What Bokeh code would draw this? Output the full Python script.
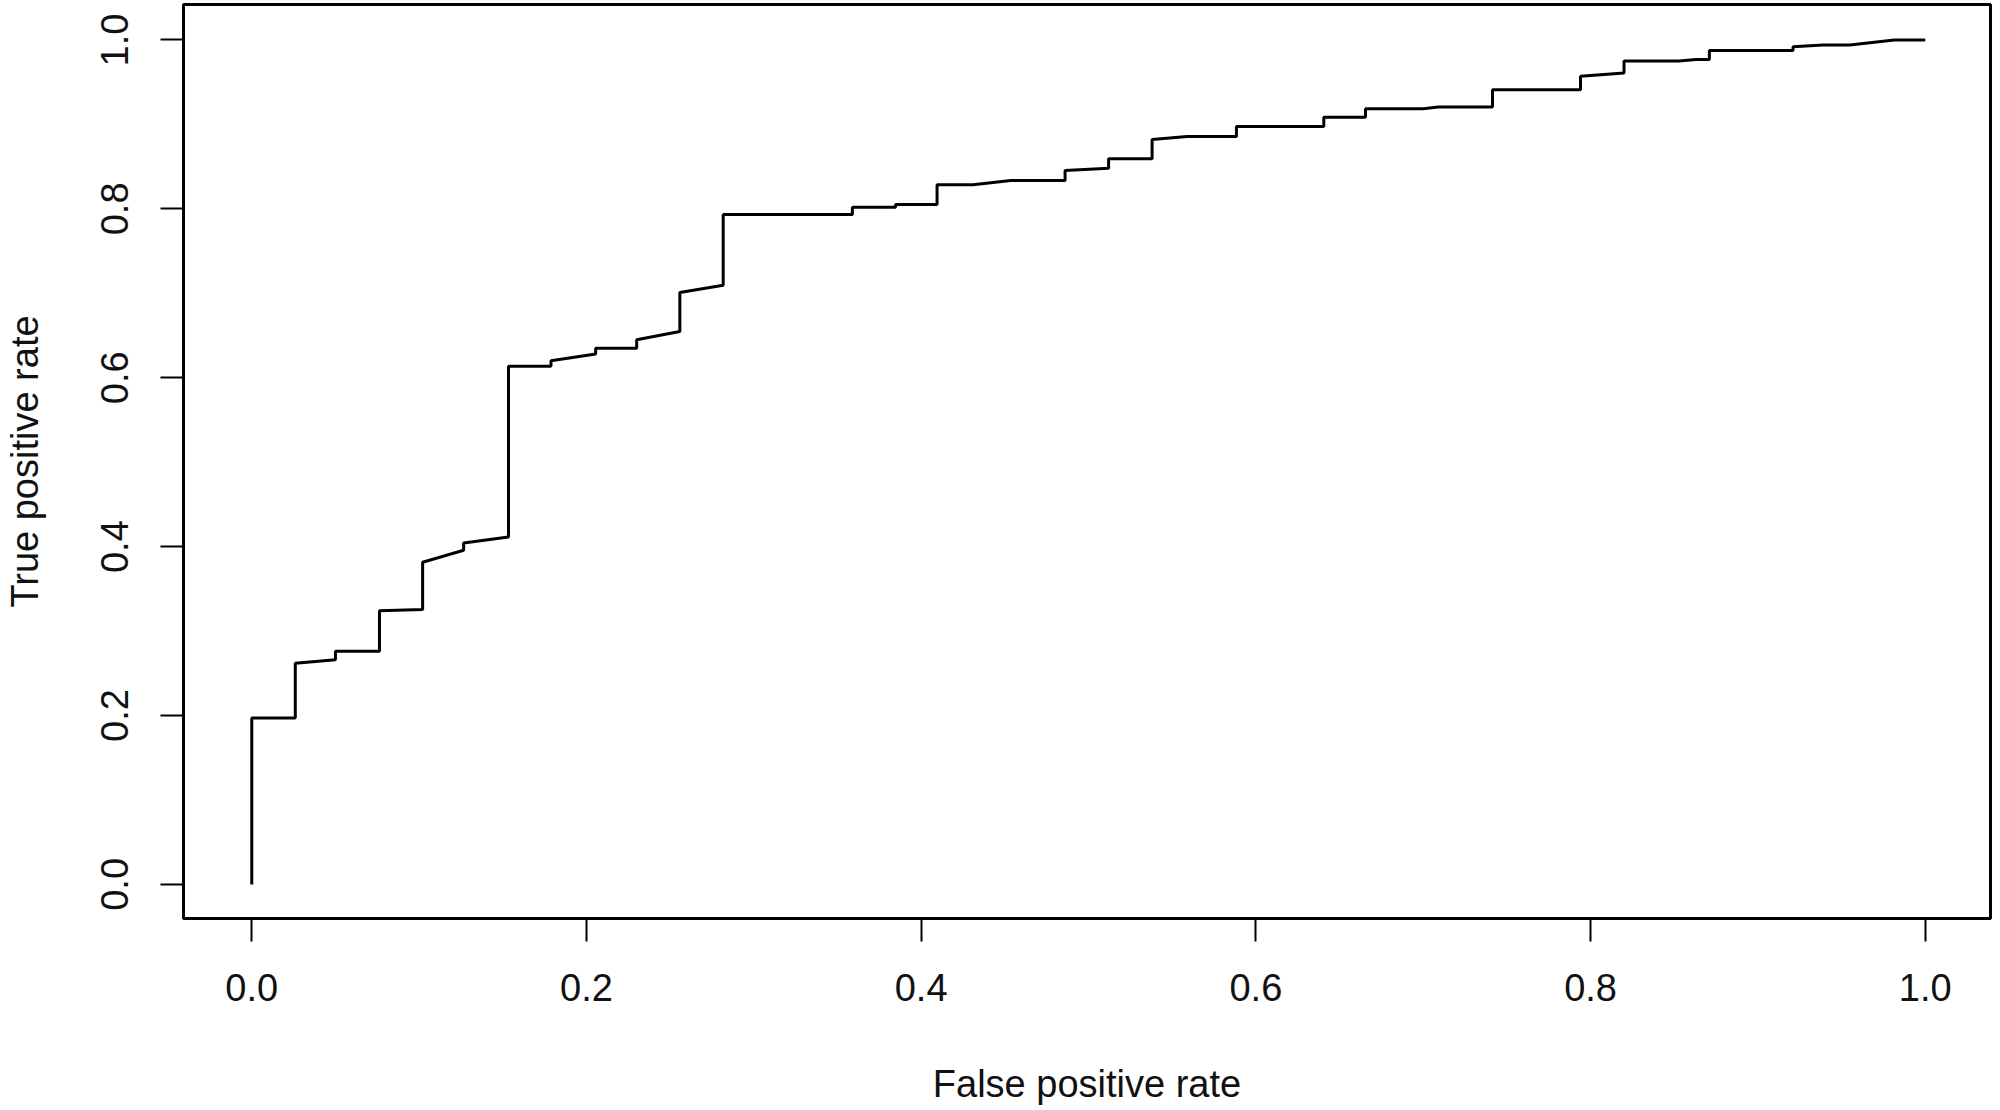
from bokeh.plotting import figure
from bokeh.models import Range1d, FixedTicker, ColumnDataSource
from bokeh.embed import file_html
from bokeh.resources import INLINE

# ROC curve vertices
fpr = [0.0, 0.0, 0.026, 0.026, 0.050, 0.050, 0.0763, 0.0763, 0.1021, 0.1021,
       0.1266, 0.1266, 0.1534, 0.1534, 0.1788, 0.1788, 0.2055, 0.2055, 0.230, 0.230,
       0.2558, 0.2558, 0.2817, 0.2817, 0.3589, 0.3589, 0.3847, 0.3847, 0.4095, 0.4095,
       0.431, 0.4536, 0.486, 0.486, 0.512, 0.512, 0.538, 0.538, 0.559, 0.5884,
       0.5884, 0.6406, 0.6406, 0.6655, 0.6655, 0.700, 0.709, 0.7414, 0.7414, 0.794,
       0.794, 0.820, 0.820, 0.853, 0.863, 0.871, 0.871, 0.921, 0.921, 0.939,
       0.955, 0.9815, 1.0]
tpr = [0.0, 0.197, 0.197, 0.262, 0.266, 0.276, 0.276, 0.324, 0.3255, 0.3815,
       0.3957, 0.4042, 0.4113, 0.6137, 0.6137, 0.620, 0.628, 0.635, 0.635, 0.645,
       0.6548, 0.701, 0.7095, 0.7933, 0.7933, 0.802, 0.802, 0.8052, 0.8052, 0.8285,
       0.8285, 0.8336, 0.8336, 0.8454, 0.848, 0.8593, 0.8593, 0.882, 0.8857, 0.8857,
       0.8976, 0.8976, 0.9086, 0.9086, 0.9185, 0.9185, 0.9205, 0.9205, 0.941, 0.941,
       0.957, 0.961, 0.975, 0.975, 0.977, 0.977, 0.9876, 0.9876, 0.992, 0.994,
       0.994, 1.0, 1.0]

tick_values = [0.0, 0.2, 0.4, 0.6, 0.8, 1.0]
tick_labels = ["0.0", "0.2", "0.4", "0.6", "0.8", "1.0"]
x_title = "False positive rate"
y_title = "True positive rate"

FONT = "Liberation Sans"
FS = "38px"

p = figure(width=2000, height=1110, output_backend="svg", toolbar_location=None,
           x_range=Range1d(-0.0408, 1.039), y_range=Range1d(-0.0404, 1.0420),
           min_border_left=183, min_border_right=10, min_border_top=4, min_border_bottom=192)

p.grid.visible = False
p.background_fill_color = "white"
p.border_fill_color = "white"
p.outline_line_color = "black"
p.outline_line_width = 3

src = ColumnDataSource(dict(x=fpr, y=tpr))
p.line("x", "y", source=src, line_color="black", line_width=3)

for ax in (p.xaxis[0], p.yaxis[0]):
    ax.ticker = FixedTicker(ticks=tick_values)
    ax.major_label_overrides = {v: s for v, s in zip(tick_values, tick_labels)}
    ax.axis_line_color = "black"
    ax.axis_line_width = 3
    ax.major_tick_line_color = "black"
    ax.major_tick_line_width = 2
    ax.major_tick_out = 23
    ax.major_tick_in = 0
    ax.minor_tick_out = 0
    ax.minor_tick_in = 0
    ax.major_label_text_font = FONT
    ax.major_label_text_font_size = FS
    ax.major_label_text_color = "#111111"
    ax.axis_label_text_font = FONT
    ax.axis_label_text_font_size = FS
    ax.axis_label_text_font_style = "normal"
    ax.axis_label_text_color = "#111111"

p.xaxis[0].axis_label = x_title
p.xaxis[0].major_label_standoff = 32
p.xaxis[0].axis_label_standoff = 59

p.yaxis[0].axis_label = y_title
p.yaxis[0].major_label_orientation = "vertical"
p.yaxis[0].major_label_standoff = 32
p.yaxis[0].axis_label_standoff = 53

open("out.html", "w").write(file_html(p, INLINE))
